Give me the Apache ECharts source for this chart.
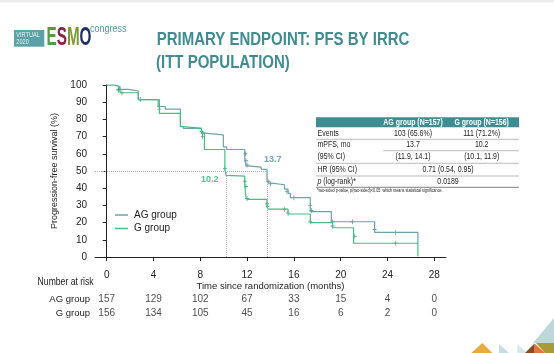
<!DOCTYPE html>
<html>
<head>
<meta charset="utf-8">
<script src="https://cdn.jsdelivr.net/npm/echarts@6/dist/echarts.min.js"></script>
<style>
  html, body { margin: 0; padding: 0; background: #fff; }
  #chart { width: 554px; height: 353px; }
</style>
</head>
<body>
<div id="chart"></div>
<script>
// data
const months = [0, 4, 8, 12, 16, 20, 24, 28]
const riskAG = [157, 129, 102, 67, 33, 15, 4, 0]
const riskG = [156, 134, 105, 45, 16, 6, 2, 0]
const groups = ['AG group', 'G group']

// Kaplan-Meier steps: [month, survival %] after each drop
const agCurve = [[0, 100], [0.7, 99], [1.1, 97.5], [1.85, 96.5], [2.7, 91.5], [4.4, 87.5], [5.0, 86],
  [6.3, 76], [6.55, 74.8], [8.1, 72], [8.4, 71], [9.97, 64], [10.25, 62.5], [11.8, 57], [11.9, 53],
  [12.1, 52.2], [13.2, 51], [13.7, 45], [13.8, 43], [14.1, 42], [15.2, 39.5], [15.5, 37], [15.7, 34.5],
  [17.4, 26.4], [19.2, 20.5], [22.9, 14.3], [26.6, 8]]
const gCurve = [[0, 100], [0.7, 99], [1.14, 95.5], [2.7, 91.5], [4.5, 83.5], [6.3, 75.8], [6.55, 74.8],
  [8.1, 72], [8.35, 62.5], [10.1, 51.5], [10.2, 47.5], [10.35, 47], [11.8, 42], [11.9, 35], [12.0, 33.5],
  [13.7, 29], [13.8, 27.8], [15.5, 25], [17.4, 20], [19.3, 17], [21.1, 8], [26.6, 0.5]]
const agCensor = [[1.0, 97.5], [2.9, 91.5], [4.5, 87.5], [8.2, 72], [11.85, 60], [11.9, 56], [12.0, 53.5],
  [13.8, 44], [14.0, 42.5], [15.4, 38], [16.0, 34.5], [17.4, 30], [17.5, 27], [19.3, 20.5], [21.0, 20.5],
  [22.9, 16], [24.7, 14.3]]
const gCensor = [[1.0, 97], [1.3, 95.5], [4.5, 86], [8.1, 73], [8.2, 70], [10.1, 51.5], [11.8, 44],
  [11.9, 41], [12.0, 34], [13.7, 31], [13.75, 29.5], [15.2, 27.8], [15.5, 25.5], [17.4, 20.5], [19.3, 18],
  [21.2, 12], [24.7, 8]]
const medianAG = 13.7
const medianG = 10.2

const tableHeader = ['AG group (N=157)', 'G group (N=156)']
const tableRows = [
  ['Events', '103 (65.6%)', '111 (71.2%)'],
  ['mPFS, mo', '13.7', '10.2'],
  ['(95% CI)', '(11.9, 14.1)', '(10.1, 11.9)'],
  ['HR (95% CI)', '0.71 (0.54, 0.95)'],
  ['{i|p} (log-rank)*', '0.0189']
]
const footnote = '*two-sided p-value, {i|p}(two-sided)<0.05  which means statistical significance.'

const F = "'Liberation Sans', Arial, sans-serif"
const NARROW = 0.82 // slide uses a condensed face, squeeze plain text to match
const AG = '#6aa3ab'
const G = '#45be85'
const TEAL = '#3f8d92'
const TXT = '#222'

const chart = echarts.init(document.getElementById('chart'))

const plus = 'path://M-0.18,-1H0.18V-0.18H1V0.18H0.18V1H-0.18V0.18H-1V-0.18H-0.18Z'

const mctx = document.createElement('canvas').getContext('2d')
function fitScale(text, font, width) {
  mctx.font = font
  return width / mctx.measureText(text).width
}

// text element squeezed horizontally around its anchor
function txt(text, x, y, size, o) {
  o = o || {}
  return {
    type: 'text', x: x, y: y, scaleX: o.scaleX || NARROW,
    style: {
      text: text, x: 0, y: 0, align: o.align || 'left', verticalAlign: 'middle',
      fill: o.fill || TXT, fontSize: size, fontWeight: o.bold ? 'bold' : 'normal', fontFamily: F,
      rich: o.rich
    }
  }
}

// table drawn as graphic elements
const tx = 316, tw = 203
const col1 = 413, col2 = 481.7, colMid = 448
const rowY = [134, 144.7, 157, 170, 181.7]
const tableEls = []
tableEls.push({ type: 'rect', shape: { x: tx, y: 117.3, width: tw, height: 10 }, style: { fill: TEAL } })
tableEls.push(txt(tableHeader[0], col1, 122.5, 8.5, { align: 'center', fill: '#fff', bold: true }))
tableEls.push(txt(tableHeader[1], col2, 122.5, 8.5, { align: 'center', fill: '#fff', bold: true }))
tableRows.forEach((r, i) => {
  const rich = { i: { fontStyle: 'italic', fontSize: 8.5, fontFamily: F, fill: TXT } }
  tableEls.push(txt(r[0], tx + 1.5, rowY[i], 8.5, { rich }))
  if (r.length === 3) {
    tableEls.push(txt(r[1], col1, rowY[i], 8.5, { align: 'center' }))
    tableEls.push(txt(r[2], col2, rowY[i], 8.5, { align: 'center' }))
  } else {
    tableEls.push(txt(r[1], colMid, rowY[i], 8.5, { align: 'center' }))
  }
})
;[[tx, 139.3], [383.3, 150.7], [tx, 163.3], [tx, 176]].forEach(l => {
  tableEls.push({ type: 'line', shape: { x1: l[0], y1: l[1], x2: tx + tw, y2: l[1] }, style: { stroke: '#aaa', lineWidth: 0.8 } })
})
tableEls.push({ type: 'line', shape: { x1: tx, y1: 187.3, x2: tx + tw, y2: 187.3 }, style: { stroke: '#999', lineWidth: 1.2 } })
tableEls.push(txt(footnote, tx + 1, 191, 4.6, { rich: { i: { fontStyle: 'italic', fontSize: 4.6, fontFamily: F, fill: TXT } } }))

const title1 = 'PRIMARY ENDPOINT: PFS BY IRRC'
const title2 = '(ITT POPULATION)'
const titleFont = 'bold 18.6px "Liberation Sans"'
const titleScale = fitScale(title1, titleFont, 252.7)
const esmoScale = fitScale('ESMO', 'bold 25px "Liberation Sans"', 45)

const option = {
  animation: false,
  backgroundColor: '#fff',
  textStyle: { fontFamily: F },
  grid: [
    { left: 95, right: 108, top: 85, bottom: 96 },
    { left: 95, right: 108, top: 292.75, height: 27 }
  ],
  legend: {
    data: groups,
    orient: 'vertical',
    left: 110,
    top: 204,
    icon: 'rect',
    itemWidth: 13,
    itemHeight: 1.5,
    itemGap: 1.5,
    textStyle: { fontSize: 10, color: TXT, fontFamily: F, lineHeight: 12, padding: [0, 0, 0, 1] }
  },
  xAxis: [
    {
      type: 'value', gridIndex: 0, min: -1, max: 29, offset: 2,
      axisLine: { show: true, lineStyle: { color: '#222', width: 1 } },
      axisTick: { show: true, length: 4, customValues: months, lineStyle: { color: '#222' } },
      axisLabel: { customValues: months, fontSize: 10, color: TXT, margin: 11, fontFamily: F },
      splitLine: { show: false },
      name: 'Time since randomization (months)',
      nameLocation: 'middle',
      nameGap: 21,
      nameTextStyle: { fontSize: 9.5, color: TXT, fontFamily: F }
    },
    { type: 'value', gridIndex: 1, min: -1, max: 29, show: false }
  ],
  yAxis: [
    {
      type: 'value', gridIndex: 0, min: 0, max: 100, interval: 10,
      axisLine: { show: true, lineStyle: { color: '#222', width: 1 } },
      axisTick: { show: true, length: 4, lineStyle: { color: '#222' } },
      axisLabel: { fontSize: 10, color: TXT, margin: 8, fontFamily: F },
      splitLine: { show: false },
      name: 'Progression-free survival (%)',
      nameLocation: 'middle',
      nameGap: 36,
      nameTextStyle: { fontSize: 9, color: TXT, fontFamily: F }
    },
    {
      type: 'category', gridIndex: 1, data: groups, inverse: true,
      axisLine: { show: false }, axisTick: { show: false }, splitLine: { show: false },
      axisLabel: { interval: 0, fontSize: 9.5, color: TXT, margin: 5, fontFamily: F }
    }
  ],
  series: [
    {
      name: 'AG group', type: 'line', step: 'end', data: agCurve, showSymbol: false,
      lineStyle: { color: AG, width: 1.2 }, itemStyle: { color: AG },
      markLine: {
        silent: true, symbol: 'none', label: { show: false },
        lineStyle: { type: 'dotted', color: '#aaa', width: 1 },
        data: [
          [{ coord: [-1, 50] }, { coord: [medianAG, 50] }],
          [{ coord: [medianAG, 0] }, { coord: [medianAG, 50] }],
          [{ coord: [medianG, 0] }, { coord: [medianG, 50] }]
        ]
      }
    },
    {
      name: 'G group', type: 'line', step: 'end', data: gCurve, showSymbol: false,
      lineStyle: { color: G, width: 1.2 }, itemStyle: { color: G }
    },
    { name: 'AG censored', type: 'scatter', data: agCensor, symbol: plus, symbolSize: [4, 5], itemStyle: { color: '#3f8088' } },
    { name: 'G censored', type: 'scatter', data: gCensor, symbol: plus, symbolSize: [4, 5], itemStyle: { color: '#1f9a5e' } },
    {
      type: 'scatter', data: [[medianAG + 0.5, 56.5]], symbolSize: 0,
      label: { show: true, position: 'inside', formatter: String(medianAG), fontSize: 9, fontWeight: 'bold', color: '#4f8f98', fontFamily: F }
    },
    {
      type: 'scatter', data: [[medianG - 1.4, 44.8]], symbolSize: 0,
      label: { show: true, position: 'inside', formatter: String(medianG), fontSize: 9, fontWeight: 'bold', color: '#2db36f', fontFamily: F }
    },
    {
      type: 'scatter', xAxisIndex: 1, yAxisIndex: 1, symbolSize: 0,
      data: months.map((m, i) => [m, 0, riskAG[i]]),
      label: { show: true, position: 'inside', formatter: p => p.value[2], fontSize: 10, color: TXT, fontFamily: F }
    },
    {
      type: 'scatter', xAxisIndex: 1, yAxisIndex: 1, symbolSize: 0,
      data: months.map((m, i) => [m, 1, riskG[i]]),
      label: { show: true, position: 'inside', formatter: p => p.value[2], fontSize: 10, color: TXT, fontFamily: F }
    }
  ],
  graphic: [
    { type: 'rect', shape: { x: 0, y: 0, width: 554, height: 2.5 }, style: { fill: '#ececec' } },
    // logo
    { type: 'rect', shape: { x: 14, y: 30, width: 30.3, height: 16.7 }, style: { fill: '#5aa2a6' } },
    txt('VIRTUAL', 16.3, 34.8, 7.5, { fill: '#e6f3f3', scaleX: 0.75 }),
    txt('2020', 16.3, 41.8, 7.5, { fill: '#e6f3f3', scaleX: 0.75 }),
    {
      type: 'text', x: 46.5, y: 38.5, scaleX: esmoScale,
      style: {
        text: '{e|E}{s|S}{m|M}{o|O}', x: 0, y: 0, verticalAlign: 'middle',
        rich: {
          e: { fill: '#559c3e', fontSize: 25, fontWeight: 'bold', fontFamily: F },
          s: { fill: '#8e2149', fontSize: 25, fontWeight: 'bold', fontFamily: F },
          m: { fill: '#7d9b32', fontSize: 25, fontWeight: 'bold', fontFamily: F },
          o: { fill: '#1e2e66', fontSize: 25, fontWeight: 'bold', fontFamily: F }
        }
      }
    },
    txt('congress', 90, 28.5, 11, { fill: '#4a9ba0' }),
    // title
    txt(title1, 156.7, 40.3, 18.6, { fill: TEAL, bold: true, scaleX: titleScale }),
    txt(title2, 156, 62.6, 18.6, { fill: TEAL, bold: true, scaleX: titleScale }),
    // risk table caption
    txt('Number at risk', 93.6, 282.5, 10.5, { align: 'right' }),
    ...tableEls,
    // corner decoration
    { type: 'polygon', shape: { points: [[533, 343], [554, 318], [554, 343]] }, style: { fill: '#bcd8da' } },
    { type: 'polygon', shape: { points: [[471.3, 353], [482.3, 343], [492.3, 353]] }, style: { fill: '#e7ab3e' } },
    { type: 'polygon', shape: { points: [[499, 344], [499, 353], [509, 353]] }, style: { fill: '#c6dee1' } },
    { type: 'polygon', shape: { points: [[517.3, 344], [517.3, 353], [527.3, 353]] }, style: { fill: '#d8e9eb' } },
    { type: 'polygon', shape: { points: [[536, 343], [554, 343], [554, 353], [545, 353]] }, style: { fill: '#a99a38' } },
    { type: 'polygon', shape: { points: [[534.5, 343.5], [534.5, 353], [545, 353]] }, style: { fill: '#ea733a' } },
    { type: 'polygon', shape: { points: [[525, 353], [534.5, 343.5], [534.5, 353]] }, style: { fill: '#8a4a24' } }
  ]
}

chart.setOption(option)
</script>
</body>
</html>
